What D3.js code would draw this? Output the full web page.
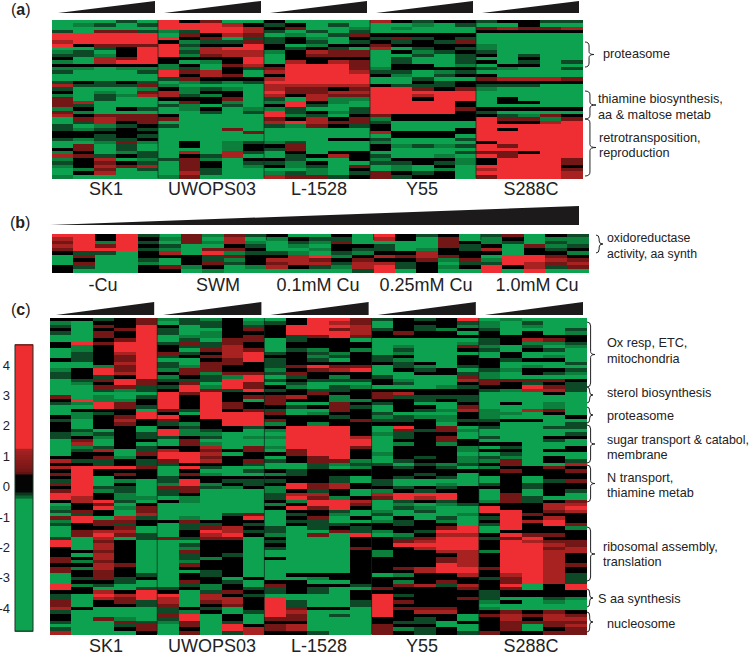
<!DOCTYPE html>
<html>
<head>
<meta charset="utf-8">
<script src="https://cdn.jsdelivr.net/npm/d3@7"></script>
<style>
  body { margin: 0; background: #fff; }
  text { font-family: "Liberation Sans", Arial, sans-serif; fill: #222; }
</style>
</head>
<body>
<svg width="753" height="656"></svg>
<script>
// levels: G bright green, g green, d dark green, k black, m dark red, r red, R bright red
const levelValues = { G: -2, g: -0.42, d: -0.3, k: 0, m: 0.5, r: 1.2, R: 2 }

const strainsA = ['SK1', 'UWOPS03', 'L-1528', 'Y55', 'S288C']
const strainsB = ['-Cu', 'SWM', '0.1mM Cu', '0.25mM Cu', '1.0mM Cu']
const barTicks = [4, 3, 2, 1, 0, -1, -2, -3, -4]

// panel a
const aSK1 = `GGGdG GgdGd GGGGG dGmmd RRRRR RRRRR rRRRR Rkmmm GGdkR gdGkR
ddgkR kGrmR gGrRR kkkkk ggGgg dGGGd GGGGG GGGGG dkdkd rdddm
dGGGg kGgGm gGdgr mGdGG mrGGG mdGGG gkGkd mgGGG rkmmm Gmrmm
Gdrkm dGgdk dgdkd kkkkk kkdkd dgddk GGgmg GmGdG kmGdG gkGgd
rmdkd gkrGg dkmkd gkrmr GgmGd GkrGG gGGGG`.split(/\s+/)
const aUWOPS03 = `RkmGG RRRrk RRRRr gdRRr Gmkrm RkmGd kgddm RdkkR RgrRR Rdrrr
Rgmrr kkkkR kGgkR gkGmr gdGkd RmrkG RkrmG dmkkk Ggdgd gGGGG
kgdgG rgkkG rdgkG kkkmG GmkgG dgGdG GgkGg GGdGd kGGGG mGGGG
GGGGG dGGGG GGGmG GGGGm GGGGG GGGGG GkGgd GkGgk GGGgk GrGrd
GkdrG dmgGk GmkGd GmkGg GmdGG GrdGG gmGGG`.split(/\s+/)
const aL1528 = `kGGGG dkGdG kmGGg dGdGd GgGdm dkgGk dkdGd kGgkk kdkdG gkrmm
Gkmmm Gkkkk Grkrm kRRRm mRRRm rRRRr kRRRR rRRRR RRRRR rrrrr
rmmkm Rmmrr rkrmm dGrgg gRkgG kRdGG gdGGd Rdkgd RgdGk mkrkm
rRrmm dgmkd GGGGG GGGGG GGGGG GGGkk gdGGG kmGGG dmGGG GkGkk
Gdkrk kdGGk dgkGG kgdGm GGgGk gdgGd rmmdk`.split(/\s+/)
const aY55 = `rkdkk GGgGd GgGGG GGGGG kkkkk dmdkd kdkdm mkkkk rGdkd Gkgdk
GGdGd GdGGd GdGGd GkkGg gkkkk ddGgd kgGdk GGdGG GGkdk kdddk
RRmkm RRRRR RRrRR RRkRR RRRRk RRRRk RRRRm RRRRk mkkkk gkkkk
dGGGG kGGGG kGGGk rkkkk GkkkG dGGGd gGGGG kgdgd kGGGG GGGGd
dGGgG gkkkg ddkdg GgGkG GgGgG mkdkG mdkkG`.split(/\s+/)
const aS288C = `dkkdd GGkGG mrmmr kkkkk GGGGG GGGGG GGGGG gGGGG gGGGG dGGGG
kGdGG GGkGG kGdGd GkkGG dgGGd GGGGG kGGGG mrrrm kkkkk dddGG
gGGGG GGGGG GGGGG GkGGG GkkGG GGGGG kkkkk dGGGG kdgmk Rmmgm
RkkrR RRRRR RkRRR RRRRR RRRRR RRRRR kRRRR RmRRR RRRRR mmkRR
RmRRR kRRRm kRRRm RRRRk rRRRm RRRRr mRRRr`.split(/\s+/)

// panel b
const bNoCu = 'RRkRd rRkRk mRgRd rRmRk mRRRd kddGk GmGGk GkGGd GmGGg kdGGk kGGGk'.split(' ')
const bSWM = 'Gmgmd gmGrG Gmgrg dGGkd gGmmk rGRgd kkdmk Gkdgk Gkmdk mgkGg kGgGG'.split(' ')
const bCu01 = 'kGGkG gkddG GdgmG GgGkk GGgkd dgGdg krRgk rrmkm mrrdr rkdgr GGGGd'.split(' ')
const bCu025 = 'RkdkG rkGmG GGGmk dGGmd dGgkd kkrkk rmrmk kkmgm rdkGd Rdkgk RGkGG'.split(' ')
const bCu10 = 'dmGkd gkGgg gdGdg kGmgd rGkdk kGkkg GRRmk gRRrm dRrmr Rkrdm RGRGG'.split(' ')

// panel c
const cSK1 = `kkdkm gGkkm dGmkR kGkmR dGmkR GGmkR GGkmR kRmRR kgkRR GgkRR
GdkrR GdkmR kdkmR GGkrR GGgmR gkRmR dkRrR dkdkR GdmRm GgkRm
GGmmd GGdgd GGGGG mGgGd kRggk dgRmk GGRmd GkkkG GgdkR kgkmR
dGkrk kGkmk kGkkG kdGkG dgdkd dkgkd GmGkk GrGkG Ggdkd GdrGd
GkkGm kkmgk rddkd kkdkd rRRRm kRkkk mRkmk kRGkk dRGgG mRGkG
kRddG mRgdG RRkgG Rrkgg krRdG GkmGk gkRgm dmkGm GdkGr mRGrd
gRmmk dkmdk GkkmG GmrrG GmRmd dGrGd RGmkG RGrkG kGrkG kkmkG
kGrkG mkrkG mgmkG kkrmG mgrkG mkmkG Gkmkd Gdmdk GkkdG RgdGG
RkGGd kkrkR dGRrR dGrmR mGkmd mGkkd rkGGG dGGGG kGGGG kGmgG
dGGmd GGGdm dGGkm rGGGk`.split(/\s+/)
const cUWOPS03 = `gdgkG Gddkg kGdkd dGGkm dGgkk Gggkm GdGmm dmdmk kddrk kGmrm
mdkrR dkmrR GGkmR dGmmk dgmkk gmmkk kmgmm gkdgR dddRR kmGRm
dRgRm kRmdR RmRkk RkRkm RkRkG RkRmk RkRmk mdRkm kGRRR RkRRR
mkkRR dgkRR kdkkd RgdkG RggGG dkdGg GmGGG GmgGG kkrGm rkmkm
RRrGk RRmkk mRrkm dkkkd GRdGG GkGGd GmgGG dkkkk dRkdd gRgkd
mmdgk dmGGG dkGGG GgGGG kgGGG GGGGG GGGGG GGGGG GGGdm GgGkR
kmkkk Gddkd Gdmrk GkRrd GkrRk mdmmG GGkkG GdkkG GgkkG GmkkG
GdkdG GdgkG GgkkG GmkkG GkkkG GGdkG GkdkG GkkGk GmkdG GdgkG
dkgkd kGdmk RGrkd rGrrk rGmrk mGkmk dkdGk dgkGd mRGkG dRGkG
gmGdG GmGRk GkGRr GmGdr`.split(/\s+/)
const cL1528 = `GkRRm dkRrm kRRRr kRRmr kRRRr kdmRm GdkkG Gkkkk Gkkkk Gdgkg
dkdgk kkgdk dkdGk dkkkk dmRmm gkmrR dmkkk Gdkgk dkddd GdGGG
kgGdg dkddk kkmkk mrkgk mkkgg mGGmk kdkmd dGGmk mGgkk kkkdk
mkkkm gkgkk kRRRk gRRRk GRRRk gRRRr GRRRR GRRRR gRRRm GmRRk
kmRRk GkmRk dkmmg GGdgd GGdGg kdkkk gdkkk kkkdG dkkdG kRmrk
gRmrk gkdkG drrkG dRmgk kgRRr gkRRm kRmRk GkkdG GdkgG GkmGk
GddGG Gkddk dGdkd dGGmd gGmGR kGGGk dGGGk kGGGk dGGGm GGGGk
GGGGk kGGGk GGGGk GGGGk GGGGk GGGGk Gkkkk GGgkk kkGGk mkkkd
dkdGG dkdGk GGGGk RGGGk RdGGd RdGGd RmkkG RrGGG RmGdG mmGGG
kkGGG mrGGG mrGGG kkdGG`.split(/\s+/)
const cY55 = `dkdkR Gkkkd Gkdkg dkdgk kmkkG kkkkk GGGGG GGGGg GgGGm GdGGk
GgGGG dkGGk dgGGk kdkGk GdgGd GkdkG GGkkd dGGGm kgGGr kdGGk
GGGgd kkkkk mrkkk mdddd kkdkd dkGGk GkkGm Gkdgr dGGGk gdggk
ddkgd kkkGk GRkmG Gmdmg gdkkG GdkmG Gkkmk Ggkgk Gkkkg Gkkkg
gkkkG Gkdkg Gdkkg dGdgd kdkdG kkkkk kkdkG kdkdG dGGGG dGGgG
kdkdk gkdkk rRRRk mRrRk Gdkdk GgGgd GdgGG gGdGG dGGGg GkGdG
gdkgG kdkkG kkkmR gkdRR Ggkrr kdmRR kmrRR kRRRR kkrRR gkkrr
gkkkr kkkmr kkkmr kkkRr kmrRR kkrRR Ggkkr kkkkk kgkmk kmrdr
mkkkm kkkkk Rdkkk Rkkkm Rmkkk Rkkkk Rmmmk Rkrrk RkkkG kkdkG
kddGk mkkGG mgdkG mkdkd`.split(/\s+/)
const cS288C = `GgGGG gGdGG gGgGG dGGGd kGkGg kkkkk dkrmk dkggd gGdGg dGkdG
GkGGG GkGgG kdkkG kGGGd kGgGG dgkkd gGkdg gGGGG mmmmk mkdkd
kkRmd dgrrd GGGkG GGGGG GGGGG GkGgG GGGgG gGrmG ggGkG gGGGk
dkkGG kGGGd dGGdd GGGGG GGGGd dGGkk GGGdG kkGGG GdGGk kkGkk
GdGGG dgGkG gmGkd kmGGr gkkmk kmkkm kkkkk GkGkk GkGdm dkdkk
kkdkk GkGkd GmGkG GmdGG gmdkm kkkrr RkkrR RRkmr kRmkk dRkrk
kRrRk dRkRm GRkkg Gkkkk kRmmk dmRkk kRrmm kRRrm kRRmr gRRrr
kRRrk kRRrk kRRrk kRRrm mRRrk kRRrk krRrd dmRrd kmRrd kRGkR
kmGkR dkkkk dkkkk dGGdg gkGgG GGGGG gGGGG kmkmk mrmrm krkrr
kmmmm kmGmr kmGkm mkkmm`.split(/\s+/)

const panelA = [aSK1, aUWOPS03, aL1528, aY55, aS288C]
const panelB = [bNoCu, bSWM, bCu01, bCu025, bCu10]
const panelC = [cSK1, cUWOPS03, cL1528, cY55, cS288C]

let svg = d3.select('svg')

let color = d3.scaleLinear()
    .domain([-5, -0.46, -0.42, -0.3, -0.15, 0.35, 0.45, 1.2, 1.25, 5])
    .range(['#0ca24f', '#0ca24f', '#0c7f3e', '#0c4a26', '#040404', '#040404', '#6e1414', '#a82222', '#ee2d30', '#ee2d30'])
    .clamp(true)

let defs = svg.append('defs')
defs.append('filter')
    .attr('id', 'soft')
    .attr('x', '-2%').attr('y', '-2%').attr('width', '104%').attr('height', '104%')
  .append('feGaussianBlur')
    .attr('stdDeviation', '0.7 0.55')

// heatmap of one panel, strains side by side
function heatmap(strainRows, x0, x1, y0, y1) {
  let rowCount = strainRows[0].length
  let xScale = d3.scaleBand().domain(d3.range(25)).range([x0, x1])
  let yScale = d3.scaleBand().domain(d3.range(rowCount)).range([y0, y1])

  let cells = []
  strainRows.forEach(function(rows, s) {
    rows.forEach(function(row, r) {
      row.split('').forEach(function(level, c) {
        cells.push({ col: s * 5 + c, row: r, value: levelValues[level] })
      })
    })
  })

  svg.append('g')
      .attr('filter', 'url(#soft)')
    .selectAll('rect')
    .data(cells)
    .enter().append('rect')
      .attr('x', function(d) { return xScale(d.col) })
      .attr('y', function(d) { return yScale(d.row) })
      .attr('width', xScale.bandwidth() + 0.5)
      .attr('height', yScale.bandwidth() + 0.5)
      .attr('fill', function(d) { return color(d.value) })
      .attr('shape-rendering', 'crispEdges')

  return xScale
}

function dividers(xScale, y0, y1) {
  svg.append('g').selectAll('line')
    .data([5, 10, 15, 20])
    .enter().append('line')
      .attr('x1', function(d) { return xScale(d) })
      .attr('x2', function(d) { return xScale(d) })
      .attr('y1', y0)
      .attr('y2', y1)
      .attr('stroke', '#0a2a1a')
      .attr('stroke-opacity', 0.7)
      .attr('stroke-width', 1)
}

function wedge(x0, x1, yTop, yBottom) {
  svg.append('path')
      .attr('d', d3.line()([[x0, yBottom], [x1, yTop], [x1, yBottom]]))
      .attr('fill', '#1c1a1a')
}

function strainWedges(xScale, yTop, yBottom) {
  d3.range(5).forEach(function(s) {
    wedge(xScale(s * 5) + 6, xScale(s * 5 + 4) + xScale.bandwidth() - 3, yTop, yBottom)
  })
}

function brace(x, y0, y1, w) {
  let m = (y0 + y1) / 2
  let k = w * 0.45
  svg.append('path')
      .attr('d', 'M' + x + ',' + y0 + 'Q' + (x + k) + ',' + y0 + ' ' + (x + k) + ',' + (y0 + 4)
        + 'L' + (x + k) + ',' + (m - 3) + 'Q' + (x + k) + ',' + m + ' ' + (x + w) + ',' + m
        + 'Q' + (x + k) + ',' + m + ' ' + (x + k) + ',' + (m + 3)
        + 'L' + (x + k) + ',' + (y1 - 4) + 'Q' + (x + k) + ',' + y1 + ' ' + x + ',' + y1)
      .attr('fill', 'none')
      .attr('stroke', '#222')
      .attr('stroke-width', 1)
}

function note(x, y, str, size) {
  svg.append('text')
      .attr('x', x)
      .attr('y', y)
      .attr('dominant-baseline', 'central')
      .attr('font-size', size || 12.7)
      .text(str)
}

function strainLabels(names, centers, y) {
  svg.append('g').selectAll('text')
    .data(names)
    .enter().append('text')
      .attr('x', function(d, i) { return centers[i] })
      .attr('y', y)
      .attr('text-anchor', 'middle')
      .attr('font-size', 18)
      .text(function(d) { return d })
}

function panelLabel(letter, x, y) {
  let t = svg.append('text').attr('x', x).attr('y', y).attr('font-size', 16)
  t.append('tspan').text('(')
  t.append('tspan').attr('font-weight', 'bold').text(letter)
  t.append('tspan').text(')')
}

// (a)
panelLabel('a', 11, 15)
let xA = heatmap(panelA, 52, 582, 20, 178)
dividers(xA, 20, 178)
strainWedges(xA, 1, 13)
strainLabels(strainsA, [106, 212, 319, 422, 531], 195)
brace(585, 42, 67, 9)
note(603, 54, 'proteasome')
brace(585, 91, 119, 11)
note(598, 99, 'thiamine biosynthesis,')
note(598, 115, 'aa & maltose metab')
brace(585, 119, 176, 11)
note(599, 138, 'retrotransposition,')
note(599, 153, 'reproduction')

// (b)
panelLabel('b', 10, 228)
let xB = heatmap(panelB, 52, 588, 234, 272)
dividers(xB, 234, 240)
wedge(50, 579, 206, 225)
strainLabels(strainsB, [103, 218, 318, 426, 537], 291)
brace(596, 235, 253, 7)
note(607, 238, 'oxidoreductase', 12.3)
note(607, 254, 'activity, aa synth', 12.3)

// (c)
panelLabel('c', 11, 315)
let xC = heatmap(panelC, 50, 586, 318, 634)
dividers(xC, 318, 634)
strainWedges(xC, 302, 315)
strainLabels(strainsA, [106, 212, 319, 422, 531], 652)

brace(587, 322, 387, 8)
note(607, 343, 'Ox resp, ETC,')
note(607, 359, 'mitochondria')
brace(587, 387, 403, 6)
note(607, 393, 'sterol biosynthesis')
brace(587, 407, 423, 6)
note(607, 416, 'proteasome')
brace(587, 425, 463, 8)
note(607, 440, 'sugar transport & catabol,', 12.4)
note(607, 455, 'membrane')
brace(587, 465, 502, 8)
note(607, 478, 'N transport,')
note(607, 493, 'thiamine metab')
brace(587, 527, 581, 8)
note(603, 547, 'ribosomal assembly,')
note(603, 562, 'translation')
brace(587, 589, 607, 6)
note(598, 599, 'S aa synthesis')
brace(587, 612, 632, 6)
note(607, 624, 'nucleosome')

// colour bar
let barScale = d3.scaleLinear().domain([4, -4]).range([365, 608])
let barValues = d3.range(-4.76, 4.66, 0.05)
svg.append('g').selectAll('rect')
  .data(barValues)
  .enter().append('rect')
    .attr('x', 15)
    .attr('y', function(d) { return barScale(d + 0.05) })
    .attr('width', 18)
    .attr('height', barScale(0) - barScale(0.05) + 0.5)
    .attr('fill', function(d) { return color(d) })
    .attr('shape-rendering', 'crispEdges')
svg.append('rect')
    .attr('x', 15)
    .attr('y', barScale(4.66))
    .attr('width', 18)
    .attr('height', barScale(-4.76) - barScale(4.66))
    .attr('fill', 'none')
    .attr('stroke', '#1a3020')

let barAxis = svg.append('g')
    .attr('transform', 'translate(15,0)')
    .call(d3.axisLeft(barScale).tickValues(barTicks).tickSize(0).tickPadding(5).tickFormat(String))
barAxis.select('.domain').remove()
barAxis.selectAll('text')
    .attr('font-size', 13)
    .attr('font-family', '"Liberation Sans", Arial, sans-serif')
</script>
</body>
</html>
